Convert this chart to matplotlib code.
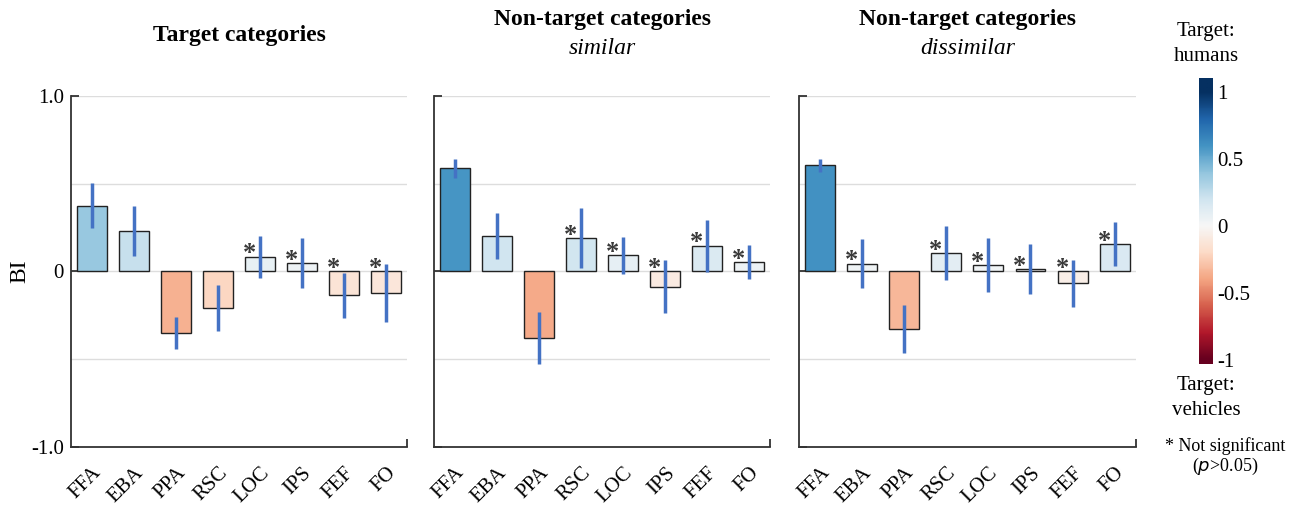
import numpy as np
import matplotlib
matplotlib.use("Agg")
import matplotlib.pyplot as plt
from matplotlib.colors import Normalize
from matplotlib.transforms import ScaledTranslation

plt.rcParams['font.family'] = ['Liberation Serif', 'DejaVu Serif']
plt.rcParams['axes.unicode_minus'] = False

regions = ['FFA', 'EBA', 'PPA', 'RSC', 'LOC', 'IPS', 'FEF', 'FO']

# bias index (BI) per region, with error half-widths
bi_target = [0.375, 0.23, -0.352, -0.211, 0.084, 0.048, -0.137, -0.122]
err_target = [0.13, 0.143, 0.089, 0.131, 0.12, 0.144, 0.128, 0.164]
bi_similar = [0.588, 0.202, -0.382, 0.189, 0.092, -0.088, 0.147, 0.053]
err_similar = [0.054, 0.13, 0.148, 0.17, 0.105, 0.152, 0.148, 0.095]
bi_dissimilar = [0.605, 0.044, -0.33, 0.103, 0.038, 0.013, -0.067, 0.156]
err_dissimilar = [0.037, 0.139, 0.137, 0.154, 0.154, 0.142, 0.134, 0.128]

# True = not significant (p>0.05)
ns_target = [False, False, False, False, True, True, True, True]
ns_similar = [False, False, False, True, True, True, True, True]
ns_dissimilar = [False, True, False, True, True, True, True, True]

cmap = plt.get_cmap('RdBu')
norm = Normalize(-1, 1)
err_color = '#4472c4'
spine_color = '#333333'

fig = plt.figure(figsize=(13.06, 5.07), dpi=100)

panels = [
    (0.0541, bi_target, err_target, ns_target, 'Target categories', None),
    (0.3321, bi_similar, err_similar, ns_similar, 'Non-target categories', 'similar'),
    (0.6118, bi_dissimilar, err_dissimilar, ns_dissimilar, 'Non-target categories', 'dissimilar'),
]

shift = ScaledTranslation(-4 / 100, 0, fig.dpi_scale_trans)

for i, (left, vals, errs, ns, title, sub) in enumerate(panels):
    ax = fig.add_axes([left, 0.1189, 0.2578, 0.6918])
    x = np.arange(len(regions))
    for yg in [1.0, 0.5, 0.0, -0.5]:
        ax.axhline(yg, color='#dddddd', lw=1.0, zorder=0)
    ax.bar(x, vals, width=0.71, color=[cmap(norm(v)) for v in vals],
           edgecolor='#222222', linewidth=1.0, zorder=2)
    ax.errorbar(x, vals, yerr=errs, fmt='none', ecolor=err_color,
                elinewidth=2.5, capsize=0, zorder=3)
    for xi, v, flag in zip(x, vals, ns):
        if flag:
            ax.text(xi - 0.25, max(v, 0) - 0.022, '*', ha='center', va='baseline',
                    fontsize=19, fontweight='bold', color='#3a3a3a', zorder=4)
    ax.set_xlim(-0.5, 7.5)
    ax.set_ylim(-1, 1)
    for s in ['top', 'right']:
        ax.spines[s].set_visible(False)
    for s in ['left', 'bottom']:
        ax.spines[s].set_color(spine_color)
        ax.spines[s].set_linewidth(1.3)
    ax.set_xticks(x)
    ax.set_xticklabels(regions, rotation=45, ha='right', va='top',
                       rotation_mode='anchor', fontsize=15)
    for lab in ax.get_xticklabels():
        lab.set_transform(lab.get_transform() + shift)
    ax.tick_params(axis='x', length=0, pad=12)
    ax.set_xticks([7.5], minor=True)
    ax.tick_params(axis='x', which='minor', direction='in', length=6,
                   width=1.3, color=spine_color)
    ax.set_yticks([-1, 0, 1])
    ax.tick_params(axis='y', direction='in', length=6, width=1.3,
                   color=spine_color, labelsize=15, pad=5)
    if i == 0:
        ax.set_yticklabels(['-1.0', '0', '1.0'])
    else:
        ax.set_yticklabels([])
    cx = left + 0.2578 / 2
    if sub is None:
        fig.text(cx, 1 - 35 / 507, title, ha='center', va='center',
                 fontsize=17, fontweight='bold')
    else:
        fig.text(cx, 1 - 20 / 507, title, ha='center', va='center',
                 fontsize=17, fontweight='bold')
        fig.text(cx, 1 - 48 / 507, sub, ha='center', va='center',
                 fontsize=17, style='italic')

fig.text(20 / 1306, 1 - 271 / 507, 'BI', rotation=90, ha='center', va='center',
         fontsize=17)

# colour scale
cax = fig.add_axes([0.918, 0.282, 0.0107, 0.564])
grad = np.linspace(-1.03, 1.1, 256).reshape(-1, 1)
cax.imshow(grad, cmap=cmap, norm=norm, aspect='auto', origin='lower',
           extent=[0, 1, -1.03, 1.1])
cax.set_xticks([])
cax.yaxis.tick_right()
cax.set_yticks([-1, -0.5, 0, 0.5, 1])
cax.set_yticklabels(['-1', '-0.5', '0', '0.5', '1'])
cax.tick_params(axis='y', length=0, labelsize=15, pad=3)
for s in cax.spines.values():
    s.set_visible(False)

fig.text(1206 / 1306, 1 - 44 / 507, 'Target:\nhumans', ha='center', va='center',
         fontsize=15, linespacing=1.4)
fig.text(1206 / 1306, 1 - 398 / 507, 'Target:\nvehicles', ha='center', va='center',
         fontsize=15, linespacing=1.4)
fig.text(1225 / 1306, 1 - 446 / 507, '* Not significant', ha='center', va='center',
         fontsize=13)
fig.text(1225 / 1306, 1 - 466 / 507, '($\\it{p}$>0.05)', ha='center', va='center',
         fontsize=13)

fig.savefig('out.png', dpi=100)
